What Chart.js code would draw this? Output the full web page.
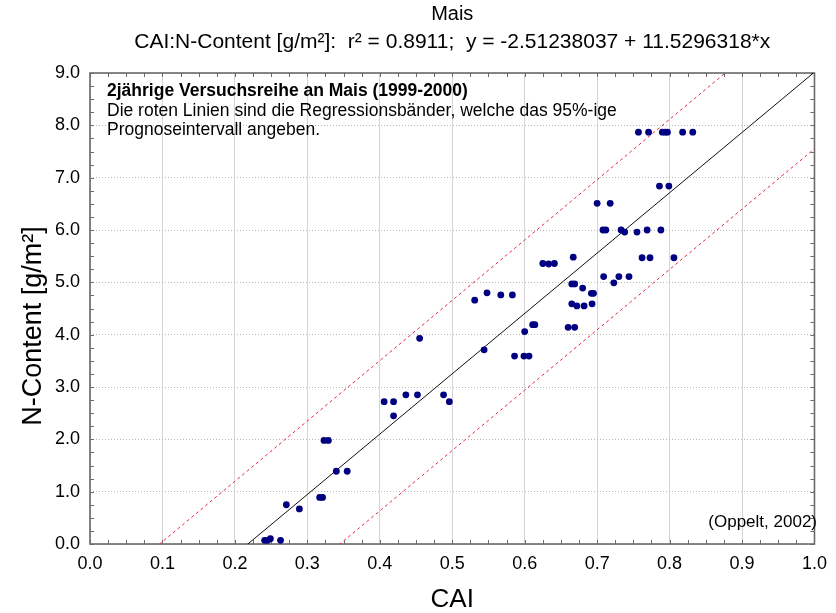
<!DOCTYPE html>
<html lang="de">
<head>
<meta charset="UTF-8">
<title>Mais – CAI : N-Content</title>
<script src="https://cdn.jsdelivr.net/npm/chart.js"></script>
<style>
  html, body { margin: 0; padding: 0; background: #fff; }
  #wrap { width: 836px; height: 613px; }
</style>
</head>
<body>
<div id="wrap"><canvas id="chart" width="836" height="613"></canvas></div>
<script>
// Messwerte: CAI (x) und N-Gehalt in g/m² (y), Versuchsreihe 1999-2000
const cai = [
  0.241, 0.245, 0.249, 0.263, 0.271, 0.289, 0.317, 0.321, 0.323, 0.329,
  0.340, 0.355, 0.406, 0.419, 0.419, 0.436, 0.452, 0.488, 0.496, 0.531,
  0.548, 0.567, 0.583, 0.544, 0.600, 0.611, 0.614, 0.586, 0.599, 0.606,
  0.625, 0.633, 0.641, 0.667, 0.665, 0.669, 0.680, 0.692, 0.695, 0.665,
  0.672, 0.682, 0.693, 0.660, 0.669, 0.700, 0.718, 0.708, 0.712, 0.733,
  0.738, 0.755, 0.769, 0.788, 0.709, 0.723, 0.730, 0.744, 0.762, 0.773,
  0.806, 0.786, 0.799, 0.757, 0.771, 0.790, 0.794, 0.797, 0.818, 0.832,
  0.455
];
const nContent = [
  0.07, 0.07, 0.10, 0.07, 0.75, 0.67, 0.89, 0.89, 1.98, 1.98,
  1.39, 1.39, 2.72, 2.72, 2.45, 2.85, 2.85, 2.85, 2.72, 4.66,
  4.80, 4.76, 4.76, 3.71, 4.06, 4.19, 4.19, 3.59, 3.59, 3.59,
  5.36, 5.35, 5.36, 5.48, 4.97, 4.97, 4.89, 4.79, 4.79, 4.59,
  4.55, 4.55, 4.59, 4.14, 4.14, 6.51, 6.51, 6.00, 6.00, 6.00,
  5.96, 5.96, 6.00, 6.00, 5.11, 4.99, 5.11, 5.11, 5.47, 5.47,
  5.47, 6.84, 6.84, 7.87, 7.87, 7.87, 7.87, 7.87, 7.87, 7.87,
  3.93
];

// Regressionsgerade laut Titel
const fitIntercept = -2.51238037;
const fitSlope = 11.5296318;
const rSquared = 0.8911;

// 95%-Prognoseband an den Achsgrenzen
const bandX = [0.0, 1.0];
const bandUpper = [-1.107, 10.42];
const bandLower = [-3.978, 7.552];

const xTickValues = [0, 0.1, 0.2, 0.3, 0.4, 0.5, 0.6, 0.7, 0.8, 0.9, 1.0];
const yTickValues = [0, 1, 2, 3, 4, 5, 6, 7, 8, 9];

const FONT = "'Liberation Sans', Arial, sans-serif";

const points = cai.map((x, i) => ({ x: x, y: nContent[i] }));
const fitLine = bandX.map(x => ({ x: x, y: fitIntercept + fitSlope * x }));
const upperLine = bandX.map((x, i) => ({ x: x, y: bandUpper[i] }));
const lowerLine = bandX.map((x, i) => ({ x: x, y: bandLower[i] }));

// Rahmen mit innenliegenden Teilstrichen
const framePlugin = {
  id: 'frame',
  beforeDatasetsDraw(chart) {
    const { ctx, chartArea: a, scales: { x, y } } = chart;
    ctx.save();
    ctx.strokeStyle = '#6a6a6a';
    ctx.lineWidth = 1;
    ctx.beginPath();
    for (let v = 0; v <= 1.0001; v += 0.025) {
      const px = Math.round(x.getPixelForValue(v)) + 0.5;
      ctx.moveTo(px, a.bottom); ctx.lineTo(px, a.bottom - 4);
      ctx.moveTo(px, a.top); ctx.lineTo(px, a.top + 4);
    }
    for (let v = 0; v <= 9.0001; v += 0.25) {
      const py = Math.round(y.getPixelForValue(v)) + 0.5;
      ctx.moveTo(a.left, py); ctx.lineTo(a.left + 4, py);
      ctx.moveTo(a.right, py); ctx.lineTo(a.right - 4, py);
    }
    ctx.stroke();
    ctx.lineWidth = 1.6;
    ctx.strokeRect(a.left, a.top, a.right - a.left, a.bottom - a.top);
    ctx.restore();
  }
};

// Titel, Achsentitel und Beschriftungen
const textPlugin = {
  id: 'texts',
  afterDraw(chart) {
    const { ctx, chartArea: a } = chart;
    const cx = (a.left + a.right) / 2;
    ctx.save();
    ctx.fillStyle = '#000';
    ctx.textBaseline = 'alphabetic';

    ctx.textAlign = 'center';
    ctx.font = '20px ' + FONT;
    ctx.fillText('Mais', cx, 20);
    ctx.font = '21px ' + FONT;
    ctx.fillText('CAI:N-Content [g/m²]:  r² = ' + rSquared + ';  y = ' + fitIntercept + ' + ' + fitSlope + '*x', cx, 48);

    ctx.font = '26px ' + FONT;
    ctx.fillText('CAI', cx, 607);

    ctx.save();
    ctx.font = '27px ' + FONT;
    ctx.translate(41, 326);
    ctx.rotate(-Math.PI / 2);
    ctx.fillText('N-Content [g/m²]', 0, 0);
    ctx.restore();

    ctx.textAlign = 'left';
    ctx.font = 'bold 17.5px ' + FONT;
    ctx.fillText('2jährige Versuchsreihe an Mais (1999-2000)', 107, 96);
    ctx.font = '17.5px ' + FONT;
    ctx.fillText('Die roten Linien sind die Regressionsbänder, welche das 95%-ige', 107, 116);
    ctx.fillText('Prognoseintervall angeben.', 107, 135);

    ctx.font = '17px ' + FONT;
    ctx.textAlign = 'right';
    ctx.fillText('(Oppelt, 2002)', 817, 527);
    ctx.restore();
  }
};

new Chart(document.getElementById('chart'), {
  type: 'scatter',
  data: {
    datasets: [
      {
        label: 'N-Content',
        data: points,
        backgroundColor: '#000080',
        borderWidth: 0,
        pointRadius: 3.4,
        pointHoverRadius: 3.4
      },
      {
        label: 'Regression',
        data: fitLine,
        showLine: true,
        borderColor: '#111',
        borderWidth: 1,
        pointRadius: 0
      },
      {
        label: '95% oben',
        data: upperLine,
        showLine: true,
        borderColor: '#e8253a',
        borderWidth: 1,
        borderDash: [3, 3],
        pointRadius: 0
      },
      {
        label: '95% unten',
        data: lowerLine,
        showLine: true,
        borderColor: '#e8253a',
        borderWidth: 1,
        borderDash: [3, 3],
        pointRadius: 0
      }
    ]
  },
  options: {
    responsive: false,
    animation: false,
    layout: { padding: { top: 73, right: 14, bottom: 0, left: 0 } },
    plugins: {
      legend: { display: false },
      tooltip: { enabled: false }
    },
    scales: {
      x: {
        type: 'linear',
        min: 0,
        max: 1,
        afterBuildTicks: s => { s.ticks = xTickValues.map(v => ({ value: v })); },
        afterFit: s => { s.height = 69; },
        ticks: {
          padding: 9,
          color: '#000',
          font: { family: FONT, size: 18 },
          callback: v => v.toFixed(1),
          maxRotation: 0
        },
        grid: { color: '#d4d4d4', lineWidth: 1, drawTicks: false },
        border: { display: false }
      },
      y: {
        type: 'linear',
        min: 0,
        max: 9,
        afterBuildTicks: s => { s.ticks = yTickValues.map(v => ({ value: v })); },
        afterFit: s => { s.width = 90; },
        ticks: {
          padding: 10,
          color: '#000',
          font: { family: FONT, size: 18 },
          callback: v => v.toFixed(1)
        },
        grid: { color: '#b8b8b8', lineWidth: 1, drawTicks: false },
        border: { display: false, dash: [1, 2] }
      }
    }
  },
  plugins: [framePlugin, textPlugin]
});
</script>
</body>
</html>
